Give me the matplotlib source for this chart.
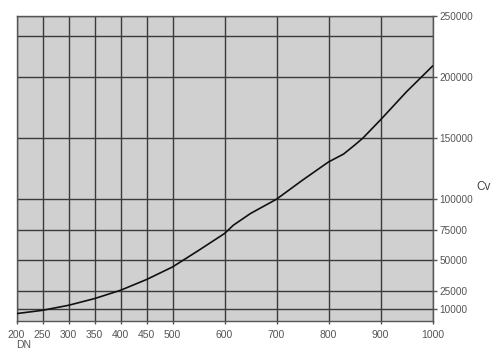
import matplotlib
matplotlib.use("Agg")
import matplotlib.pyplot as plt

plt.rcParams['font.family'] = ['Liberation Sans', 'DejaVu Sans']

dn = [200, 250, 300, 350, 400, 450, 500, 550, 600, 617, 650, 700, 750, 800, 829, 850, 866, 900, 950, 1000]
cv = [6300, 9000, 13100, 18600, 25400, 34200, 44500, 58000, 71900, 78700, 88300, 100000,
      115600, 130500, 137000, 144200, 150000, 165000, 188000, 209000]

x_ticks = [200, 250, 300, 350, 400, 450, 500, 600, 700, 800, 900, 1000]
y_ticks = [10000, 25000, 50000, 75000, 100000, 150000, 200000, 250000]
extra_grid_y = [233400]

fig = plt.figure(figsize=(5.0, 3.57), dpi=100)
ax = fig.add_axes([0.033, 0.1, 0.832, 0.855])
ax.set_facecolor("#d0d0d0")
ax.set_xlim(200, 1000)
ax.set_ylim(0, 250000)

grid_c = "#3a3a3a"
for x in x_ticks:
    ax.axvline(x, color=grid_c, lw=1.0, zorder=1)
for y in y_ticks + extra_grid_y:
    ax.axhline(y, color=grid_c, lw=1.0, zorder=1)

ax.plot(dn, cv, color="#111111", lw=1.2, zorder=3)

for s in ax.spines.values():
    s.set_color("#555555")
    s.set_linewidth(1.0)

ax.set_xticks(x_ticks)
ax.set_xticklabels([str(v) for v in x_ticks])
ax.set_yticks(y_ticks)
ax.set_yticklabels([str(v) for v in y_ticks])
ax.yaxis.tick_right()
ax.tick_params(axis="y", direction="out", length=3, width=1.0, color="#555555",
               labelsize=7.2, labelcolor="#555555", pad=2)
ax.tick_params(axis="x", direction="out", length=2, width=1.0, color="#555555",
               labelsize=7.5, labelcolor="#555555", pad=4)
ax.tick_params(axis="y", left=False, labelleft=False)

fig.text(0.953, 0.476, "Cv", fontsize=8.5, color="#444444", ha="left", va="center")
fig.text(0.033, 0.035, "DN", fontsize=7.5, color="#555555", ha="left", va="center")

fig.savefig("out.png", dpi=100)
